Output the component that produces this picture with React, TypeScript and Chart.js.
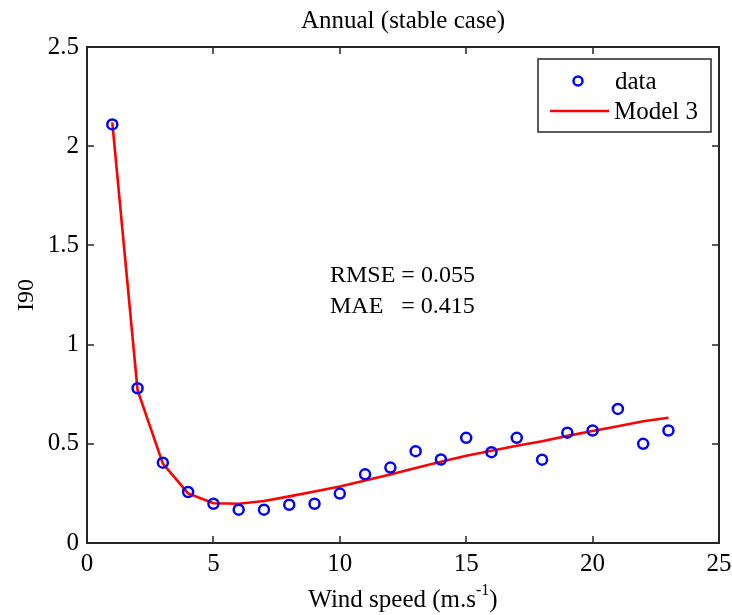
import React, { useEffect, useRef } from "react";
import { Chart, registerables } from "chart.js";

Chart.register(...registerables);

const windSpeed = [1, 2, 3, 4, 5, 6, 7, 8, 9, 10, 11, 12, 13, 14, 15, 16, 17, 18, 19, 20, 21, 22, 23];
const dataI90 = [2.11, 0.78, 0.405, 0.257, 0.198, 0.168, 0.168, 0.193, 0.198, 0.249, 0.346, 0.38, 0.463, 0.421, 0.53, 0.458, 0.53, 0.42, 0.556, 0.567, 0.676, 0.5, 0.567];
const model3 = [2.12, 0.77, 0.4, 0.25, 0.2, 0.198, 0.212, 0.235, 0.26, 0.285, 0.315, 0.345, 0.378, 0.41, 0.44, 0.465, 0.49, 0.513, 0.54, 0.565, 0.588, 0.614, 0.631];
const xTicks = [0, 5, 10, 15, 20, 25];
const yTicks = [0, 0.5, 1, 1.5, 2, 2.5];
const titleText = "Annual (stable case)";
const yTitle = "I90";
const rmseText = "RMSE = 0.055";
const maeText = "MAE   = 0.415";
const legendLabels = ["data", "Model 3"];

const FONT = "'Liberation Serif', 'Times New Roman', serif";

const decorPlugin = {
  id: "decor",
  afterDraw(chart: any) {
    const ctx = chart.ctx;
    const a = chart.chartArea;
    const xs = chart.scales.x;
    const ys = chart.scales.y;
    ctx.save();
    // frame
    ctx.strokeStyle = "#262626";
    ctx.lineWidth = 2;
    ctx.strokeRect(a.left, a.top, a.right - a.left, a.bottom - a.top);
    // inward ticks
    const tl = 7;
    ctx.lineWidth = 1.5;
    ctx.beginPath();
    xTicks.forEach((v) => {
      const px = Math.round(xs.getPixelForValue(v));
      ctx.moveTo(px, a.bottom);
      ctx.lineTo(px, a.bottom - tl);
      ctx.moveTo(px, a.top);
      ctx.lineTo(px, a.top + tl);
    });
    yTicks.forEach((v) => {
      const py = Math.round(ys.getPixelForValue(v));
      ctx.moveTo(a.left, py);
      ctx.lineTo(a.left + tl, py);
      ctx.moveTo(a.right, py);
      ctx.lineTo(a.right - tl, py);
    });
    ctx.stroke();

    ctx.fillStyle = "#000";
    // title
    ctx.font = `25px ${FONT}`;
    ctx.textAlign = "center";
    ctx.textBaseline = "middle";
    ctx.fillText(titleText, (a.left + a.right) / 2, 21);

    // x axis title with superscript
    const main = "Wind speed (m.s";
    const sup = "-1";
    const close = ")";
    ctx.font = `25px ${FONT}`;
    const w1 = ctx.measureText(main).width;
    const w3 = ctx.measureText(close).width;
    ctx.font = `16px ${FONT}`;
    const w2 = ctx.measureText(sup).width;
    const total = w1 + w2 + w3;
    const x0 = (a.left + a.right) / 2 - total / 2;
    ctx.textAlign = "left";
    ctx.textBaseline = "alphabetic";
    ctx.font = `25px ${FONT}`;
    ctx.fillText(main, x0, 607);
    ctx.font = `16px ${FONT}`;
    ctx.fillText(sup, x0 + w1, 595);
    ctx.font = `25px ${FONT}`;
    ctx.fillText(close, x0 + w1 + w2, 607);

    // y axis title
    ctx.save();
    ctx.translate(27, (a.top + a.bottom) / 2);
    ctx.rotate(-Math.PI / 2);
    ctx.textAlign = "center";
    ctx.textBaseline = "middle";
    ctx.font = `24px ${FONT}`;
    ctx.fillText(yTitle, 0, 0);
    ctx.restore();

    // annotations
    ctx.textAlign = "left";
    ctx.textBaseline = "middle";
    ctx.font = `24px ${FONT}`;
    ctx.fillText(rmseText, 330, 276);
    ctx.fillText(maeText, 330, 307);

    // legend
    const lx = 538, ly = 59, lw = 173, lh = 73;
    ctx.fillStyle = "#fff";
    ctx.fillRect(lx, ly, lw, lh);
    ctx.strokeStyle = "#262626";
    ctx.lineWidth = 1.5;
    ctx.strokeRect(lx, ly, lw, lh);
    ctx.strokeStyle = "#0000ff";
    ctx.lineWidth = 2.5;
    ctx.beginPath();
    ctx.arc(578, 81, 4.5, 0, Math.PI * 2);
    ctx.stroke();
    ctx.strokeStyle = "#ff0000";
    ctx.beginPath();
    ctx.moveTo(550, 111);
    ctx.lineTo(609, 111);
    ctx.stroke();
    ctx.fillStyle = "#000";
    ctx.font = `25px ${FONT}`;
    ctx.fillText(legendLabels[0], 615, 82);
    ctx.fillText(legendLabels[1], 614, 112);
    ctx.restore();
  },
};

export default function App() {
  const ref = useRef<HTMLCanvasElement>(null);
  useEffect(() => {
    if (!ref.current) return;
    const chart = new Chart(ref.current, {
      type: "scatter",
      data: {
        datasets: [
          {
            label: legendLabels[1],
            type: "line",
            data: windSpeed.map((x, i) => ({ x, y: model3[i] })),
            borderColor: "#ff0000",
            borderWidth: 2.6,
            pointRadius: 0,
            tension: 0,
            fill: false,
            order: 2,
          } as any,
          {
            label: legendLabels[0],
            data: windSpeed.map((x, i) => ({ x, y: dataI90[i] })),
            borderColor: "#0000ff",
            backgroundColor: "rgba(0,0,0,0)",
            borderWidth: 2.5,
            pointRadius: 5,
            pointStyle: "circle",
            order: 1,
          },
        ],
      },
      options: {
        animation: false,
        responsive: false,
        maintainAspectRatio: false,
        layout: { padding: { top: 47, right: 13, left: 0, bottom: 0 } },
        plugins: {
          legend: { display: false },
          title: { display: false },
          tooltip: { enabled: false },
        },
        scales: {
          x: {
            type: "linear",
            min: 0,
            max: 25,
            afterBuildTicks: (s: any) => {
              s.ticks = xTicks.map((v) => ({ value: v }));
            },
            afterFit: (s: any) => {
              s.height = 72;
              s.paddingLeft = 0;
              s.paddingRight = 0;
            },
            grid: { display: false, drawTicks: false },
            border: { display: false },
            ticks: {
              color: "#000",
              font: { family: FONT, size: 25 },
              padding: 6,
              maxRotation: 0,
              autoSkip: false,
              callback: (v: any) => String(v),
            },
          },
          y: {
            type: "linear",
            min: 0,
            max: 2.5,
            afterBuildTicks: (s: any) => {
              s.ticks = yTicks.map((v) => ({ value: v }));
            },
            afterFit: (s: any) => {
              s.width = 87;
              s.paddingTop = 0;
              s.paddingBottom = 0;
            },
            grid: { display: false, drawTicks: false },
            border: { display: false },
            ticks: {
              color: "#000",
              font: { family: FONT, size: 25 },
              padding: 8,
              autoSkip: false,
              callback: (v: any) => String(v),
            },
          },
        },
      },
      plugins: [decorPlugin],
    });
    return () => chart.destroy();
  }, []);
  return (
    <div style={{ position: "absolute", left: 0, top: 0, width: 732, height: 615, background: "#fff" }}>
      <canvas ref={ref} width={732} height={615} style={{ width: 732, height: 615 }} />
    </div>
  );
}
